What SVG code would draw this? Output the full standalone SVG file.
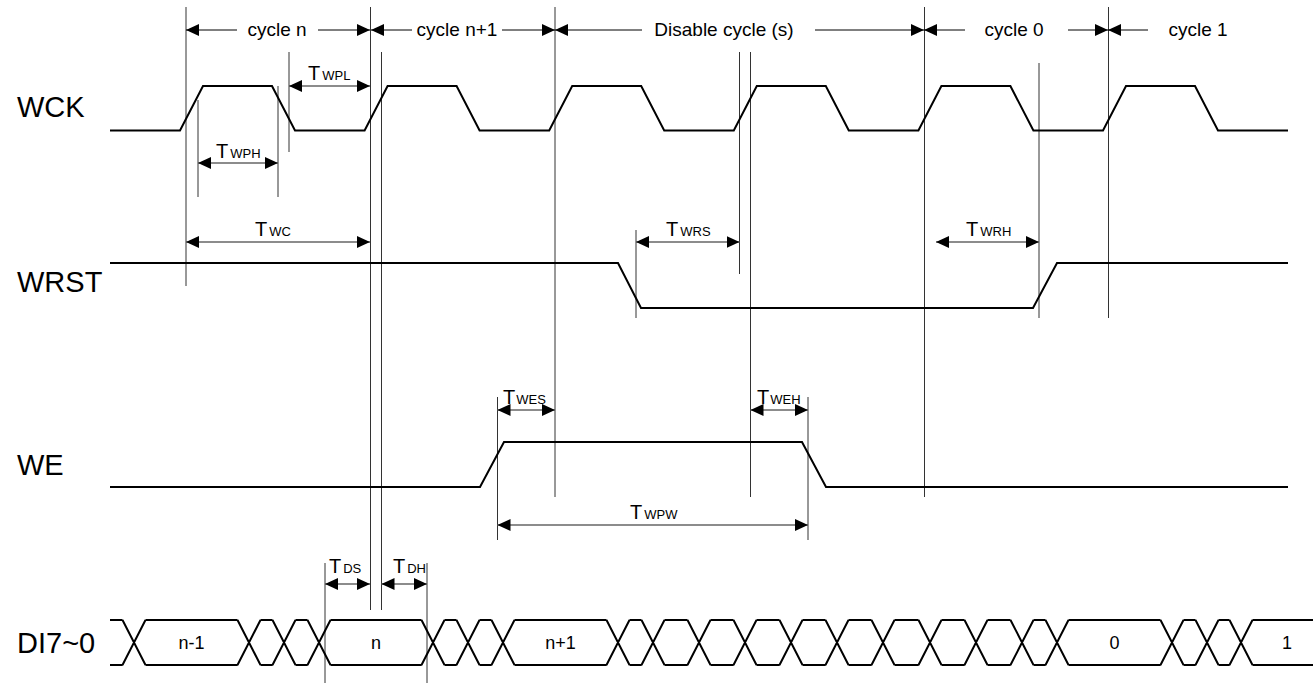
<svg xmlns="http://www.w3.org/2000/svg" width="1313" height="683" viewBox="0 0 1313 683">
<defs>
<marker id="ah" markerUnits="userSpaceOnUse" markerWidth="13" markerHeight="12" refX="13" refY="6" orient="auto-start-reverse">
<path d="M0,0 L13,6 L0,12 Z" fill="#000"/>
</marker>
<style>
text{font-family:"Liberation Sans",Arial,Helvetica,sans-serif;fill:#000}
.sig{fill:none;stroke:#000;stroke-width:2;stroke-linejoin:miter}
.guide{fill:none;stroke:#333;stroke-width:1}
.hdr{fill:none;stroke:#000;stroke-width:1;marker-end:url(#ah)}
.meas{fill:none;stroke:#666;stroke-width:1.5;marker-start:url(#ah);marker-end:url(#ah)}
.lbl{font-size:29px}
.cyc{font-size:19px;text-anchor:middle}
.tl{font-size:20px}
.sub{font-size:13px}
.val{font-size:18px;text-anchor:middle}
</style>
</defs>
<rect width="1313" height="683" fill="#fff"/>

<g id="guides">
<path class="guide" d="M186,7V286 M370.5,7V610 M381.5,52V610 M289,52V152 M198,100V197 M278,86V197 M555,7V497 M739.5,52V274 M750.5,52V497 M924.5,7V497 M1039,63V318 M1108.5,7V318 M636,230V318 M497.5,397V540 M808,397V540 M325,563V683 M427,563V683"/>
</g>

<g id="header">
<line class="hdr" x1="237" y1="30" x2="186" y2="30"/>
<line class="hdr" x1="318" y1="30" x2="370" y2="30"/>
<text class="cyc" x="277" y="36">cycle n</text>
<line class="hdr" x1="412" y1="30" x2="371" y2="30"/>
<line class="hdr" x1="502" y1="30" x2="555" y2="30"/>
<text class="cyc" x="457" y="36">cycle n+1</text>
<line class="hdr" x1="642" y1="30" x2="555" y2="30"/>
<line class="hdr" x1="815" y1="30" x2="924" y2="30"/>
<text class="cyc" x="724" y="36">Disable cycle (s)</text>
<line class="hdr" x1="965" y1="30" x2="924" y2="30"/>
<line class="hdr" x1="1068" y1="30" x2="1108" y2="30"/>
<text class="cyc" x="1014" y="36">cycle 0</text>
<line class="hdr" x1="1148" y1="30" x2="1108" y2="30"/>
<text class="cyc" x="1198" y="36">cycle 1</text>
</g>

<g id="wck">
<text class="lbl" x="17" y="117">WCK</text>
<path class="sig" d="M110,130.5 H180 L203,86 H272 L295,130.5 H364.6 L387.6,86 H456.6 L479.6,130.5 H549.2 L572.2,86 H641.2 L664.2,130.5 H733.8 L756.8,86 H825.8 L848.8,130.5 H918.4 L941.4,86 H1010.4 L1033.4,130.5 H1103 L1126,86 H1195 L1218,130.5 H1288"/>
</g>

<g id="wrst">
<text class="lbl" x="17" y="292">WRST</text>
<path class="sig" d="M110,263 H618 L641,308 H1033 L1057,263 H1288"/>
</g>

<g id="we">
<text class="lbl" x="17" y="475">WE</text>
<path class="sig" d="M110,487 H480 L504,442 H802 L826,487 H1288"/>
</g>

<g id="di">
<text class="lbl" x="17" y="653">DI7~0</text>
<path class="sig" d="M110,620H122.5 M145.5,620H237.5 M260.5,620H272.5 M295.5,620H307.5 M330.5,620H421.5 M444.5,620H456.5 M479.5,620H491.5 M514.5,620H606.5 M629.5,620H641.5 M664.5,620H687.5 M710.5,620H733.5 M756.5,620H779.5 M802.5,620H825.5 M848.5,620H871.5 M894.5,620H918.5 M941.5,620H964.5 M987.5,620H1010.5 M1033.5,620H1045.5 M1068.5,620H1160.5 M1183.5,620H1195.5 M1218.5,620H1229.5 M1252.5,620H1313
M110,665H122.5 M145.5,665H237.5 M260.5,665H272.5 M295.5,665H307.5 M330.5,665H421.5 M444.5,665H456.5 M479.5,665H491.5 M514.5,665H606.5 M629.5,665H641.5 M664.5,665H687.5 M710.5,665H733.5 M756.5,665H779.5 M802.5,665H825.5 M848.5,665H871.5 M894.5,665H918.5 M941.5,665H964.5 M987.5,665H1010.5 M1033.5,665H1045.5 M1068.5,665H1160.5 M1183.5,665H1195.5 M1218.5,665H1229.5 M1252.5,665H1313
M122.5,620L145.5,665M122.5,665L145.5,620
M237.5,620L260.5,665M237.5,665L260.5,620
M272.5,620L295.5,665M272.5,665L295.5,620
M307.5,620L330.5,665M307.5,665L330.5,620
M421.5,620L444.5,665M421.5,665L444.5,620
M456.5,620L479.5,665M456.5,665L479.5,620
M491.5,620L514.5,665M491.5,665L514.5,620
M606.5,620L629.5,665M606.5,665L629.5,620
M641.5,620L664.5,665M641.5,665L664.5,620
M687.5,620L710.5,665M687.5,665L710.5,620
M733.5,620L756.5,665M733.5,665L756.5,620
M779.5,620L802.5,665M779.5,665L802.5,620
M825.5,620L848.5,665M825.5,665L848.5,620
M871.5,620L894.5,665M871.5,665L894.5,620
M918.5,620L941.5,665M918.5,665L941.5,620
M964.5,620L987.5,665M964.5,665L987.5,620
M1010.5,620L1033.5,665M1010.5,665L1033.5,620
M1045.5,620L1068.5,665M1045.5,665L1068.5,620
M1160.5,620L1183.5,665M1160.5,665L1183.5,620
M1195.5,620L1218.5,665M1195.5,665L1218.5,620
M1229.5,620L1252.5,665M1229.5,665L1252.5,620"/>
<text class="val" x="191.5" y="649">n-1</text>
<text class="val" x="376" y="649">n</text>
<text class="val" x="560.5" y="649">n+1</text>
<text class="val" x="1114.5" y="649">0</text>
<text class="val" x="1287" y="649">1</text>
</g>

<g id="timing">
<line class="meas" x1="289" y1="86" x2="370" y2="86"/>
<text class="tl" x="308" y="80">T<tspan class="sub" dx="2">WPL</tspan></text>
<line class="meas" x1="198" y1="163" x2="278" y2="163"/>
<text class="tl" x="216" y="158">T<tspan class="sub" dx="2">WPH</tspan></text>
<line class="meas" x1="186" y1="242" x2="370" y2="242"/>
<text class="tl" x="255" y="236">T<tspan class="sub" dx="2">WC</tspan></text>
<line class="meas" x1="636" y1="242" x2="739.5" y2="242"/>
<text class="tl" x="666" y="236">T<tspan class="sub" dx="2">WRS</tspan></text>
<line class="meas" x1="936" y1="242" x2="1039" y2="242"/>
<text class="tl" x="966" y="236">T<tspan class="sub" dx="2">WRH</tspan></text>
<line class="meas" x1="497.5" y1="410" x2="555" y2="410"/>
<text class="tl" x="503" y="404">T<tspan class="sub" dx="1">WES</tspan></text>
<line class="meas" x1="750.5" y1="410" x2="808" y2="410"/>
<text class="tl" x="757" y="404">T<tspan class="sub" dx="1">WEH</tspan></text>
<line class="meas" x1="497.5" y1="525" x2="808" y2="525"/>
<text class="tl" x="630" y="519">T<tspan class="sub" dx="2">WPW</tspan></text>
<line class="meas" x1="325" y1="584" x2="370" y2="584"/>
<text class="tl" x="329" y="573">T<tspan class="sub" dx="2">DS</tspan></text>
<line class="meas" x1="381.5" y1="584" x2="427" y2="584"/>
<text class="tl" x="393" y="573">T<tspan class="sub" dx="2">DH</tspan></text>
</g>
</svg>
